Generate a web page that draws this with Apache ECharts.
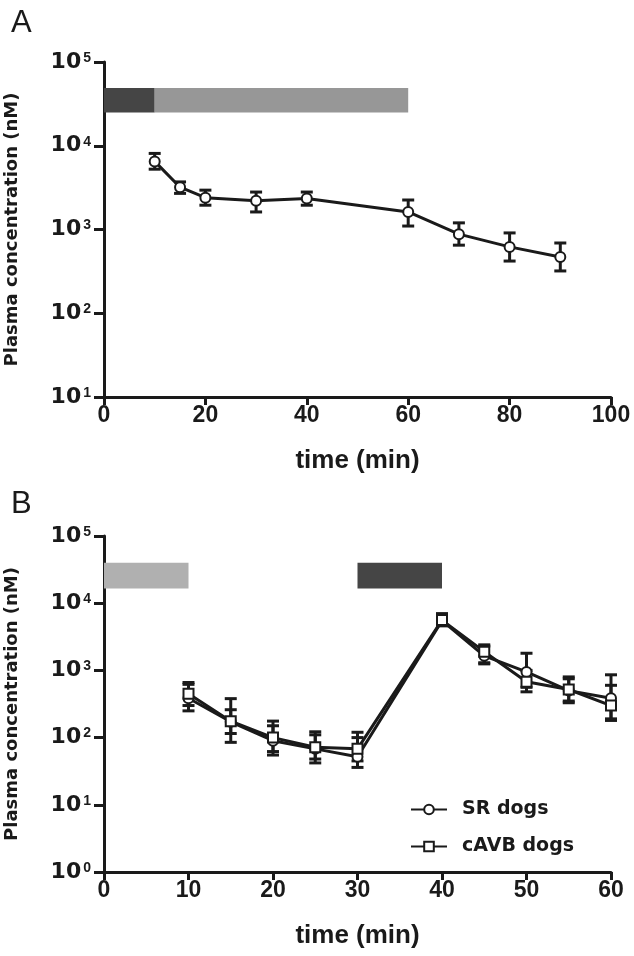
<!DOCTYPE html>
<html>
<head>
<meta charset="utf-8">
<script src="https://cdn.jsdelivr.net/npm/echarts@6/dist/echarts.min.js"></script>
<style>
html,body{margin:0;padding:0;background:#fff;}
#c{width:634px;height:956px;}
</style>
</head>
<body>
<div id="c"></div>
<script>
// ---------- Panel A data ----------
var timeA = [10, 15, 20, 30, 40, 60, 70, 80, 90];
var concA = [6500, 3200, 2400, 2200, 2350, 1620, 880, 620, 470];
var concA_hi = [8100, 3700, 2950, 2800, 2800, 2250, 1200, 910, 690];
var concA_lo = [5250, 2700, 1950, 1620, 1950, 1100, 650, 420, 320];
// dosing bars A: [start, end, low, high]
var barsA = [[0, 10, 25000, 49000], [10, 60, 25000, 49000]];
var barsA_color = ['#454545', '#979797'];

// ---------- Panel B data ----------
var timeB = [10, 15, 20, 25, 30, 40, 45, 50, 55, 60];
var concSR = [385, 172, 90, 68, 52, 5500, 1650, 950, 500, 385];
var concSR_hi = [620, 380, 176, 122, 100, 6800, 2300, 1800, 800, 860];
var concSR_lo = [250, 85, 55, 42, 36, 4800, 1250, 560, 330, 180];
var concCAVB = [450, 175, 100, 72, 68, 5600, 1900, 680, 520, 300];
var concCAVB_hi = [660, 260, 150, 110, 120, 7000, 2400, 1000, 750, 600];
var concCAVB_lo = [300, 115, 62, 48, 45, 4600, 1300, 480, 350, 190];
var barsB = [[0, 10, 16500, 40000], [30, 40, 16500, 40000]];
var barsB_color = ['#b0b0b0', '#454545'];

var xTicksA = [0, 20, 40, 60, 80, 100];
var xTicksB = [0, 10, 20, 30, 40, 50, 60];

var FONT = '"Liberation Sans", Arial, sans-serif';
var WIDE = '"DejaVu Sans", sans-serif';
var INK = '#1a1a1a';

function zip(xs, ys) { return xs.map(function (x, i) { return [x, ys[i]]; }); }
function errData(xs, lo, hi) { return xs.map(function (x, i) { return [x, lo[i], hi[i]]; }); }

function errRender(params, api) {
  var x = api.value(0);
  var p1 = api.coord([x, api.value(1)]);
  var p2 = api.coord([x, api.value(2)]);
  var hw = 6;
  var st = { stroke: INK, lineWidth: 3 };
  return {
    type: 'group',
    children: [
      { type: 'line', shape: { x1: p1[0], y1: p1[1], x2: p2[0], y2: p2[1] }, style: st },
      { type: 'line', shape: { x1: p1[0] - hw, y1: p1[1], x2: p1[0] + hw, y2: p1[1] }, style: st },
      { type: 'line', shape: { x1: p2[0] - hw, y1: p2[1], x2: p2[0] + hw, y2: p2[1] }, style: st }
    ]
  };
}
function barRenderFactory(colors) {
  return function (params, api) {
    var a = api.coord([api.value(0), api.value(3)]);
    var b = api.coord([api.value(1), api.value(2)]);
    return { type: 'rect', shape: { x: a[0], y: a[1], width: b[0] - a[0], height: b[1] - a[1] },
      style: { fill: colors[params.dataIndex] } };
  };
}

var supLabel = function (v) {
  var e = Math.round(Math.log10(v));
  return '{b|10}{s|' + e + '}';
};
var richSup = {
  b: { fontSize: 22, fontWeight: 'bold', fontFamily: WIDE, color: INK },
  s: { fontSize: 14, fontWeight: 'bold', fontFamily: FONT, color: INK, verticalAlign: 'top', padding: [0, 0, 2, 2] }
};

function yAxis(grid, min, max) {
  return {
    type: 'log', logBase: 10, gridIndex: grid, min: min, max: max,
    name: 'Plasma concentration (nM)', nameLocation: 'middle', nameGap: 83,
    nameTextStyle: { fontSize: 18, fontWeight: 'bold', fontFamily: WIDE, color: INK },
    axisLine: { show: true, lineStyle: { color: INK, width: 3 } },
    axisTick: { show: true, length: 10, lineStyle: { color: INK, width: 3 } },
    minorTick: { show: false },
    splitLine: { show: false },
    axisLabel: { formatter: supLabel, rich: richSup, margin: 13 }
  };
}
function xAxis(grid, max, interval) {
  return {
    type: 'value', gridIndex: grid, min: 0, max: max, interval: interval,
    name: 'time (min)', nameLocation: 'middle', nameGap: 51,
    nameTextStyle: { fontSize: 26, fontWeight: 'bold', fontFamily: FONT, color: INK },
    axisLine: { show: true, onZero: false, lineStyle: { color: INK, width: 3 } },
    axisTick: { show: true, length: 8, lineStyle: { color: INK, width: 3 } },
    splitLine: { show: false },
    axisLabel: { fontSize: 23, fontWeight: 'bold', fontFamily: FONT, color: INK, margin: 7 }
  };
}

var lineStyle = { color: INK, width: 3 };
var chart = echarts.init(document.getElementById('c'), null, { renderer: 'canvas' });
chart.setOption({
  backgroundColor: '#fff',
  animation: false,
  title: [
    { text: 'A', left: 6, top: 3, textStyle: { fontSize: 31, fontWeight: 'normal', fontFamily: FONT, color: INK } },
    { text: 'B', left: 6, top: 484, textStyle: { fontSize: 31, fontWeight: 'normal', fontFamily: FONT, color: INK } }
  ],
  grid: [
    { left: 104, top: 62, width: 507, height: 335, containLabel: false, outerBoundsMode: 'none' },
    { left: 104, top: 536, width: 507, height: 336, containLabel: false, outerBoundsMode: 'none' }
  ],
  legend: {
    data: ['SR dogs', 'cAVB dogs'], orient: 'vertical', left: 405, top: 795,
    itemWidth: 36, itemHeight: 12, itemGap: 18,
    textStyle: { fontSize: 19, fontWeight: 'bold', fontFamily: WIDE, color: INK, padding: [0, 0, 0, 10] }
  },
  xAxis: [xAxis(0, 100, 20), xAxis(1, 60, 10)],
  yAxis: [yAxis(0, 10, 100000), yAxis(1, 1, 100000)],
  series: [
    { type: 'custom', xAxisIndex: 0, yAxisIndex: 0, renderItem: barRenderFactory(barsA_color), data: barsA, z: 1 },
    { type: 'custom', xAxisIndex: 1, yAxisIndex: 1, renderItem: barRenderFactory(barsB_color), data: barsB, z: 1 },
    { type: 'custom', xAxisIndex: 0, yAxisIndex: 0, renderItem: errRender, data: errData(timeA, concA_lo, concA_hi), z: 2 },
    { type: 'line', name: 'A', xAxisIndex: 0, yAxisIndex: 0, data: zip(timeA, concA),
      symbol: 'emptyCircle', symbolSize: 10, lineStyle: lineStyle, itemStyle: { color: INK, borderWidth: 2.5 }, z: 3 },
    { type: 'custom', xAxisIndex: 1, yAxisIndex: 1, renderItem: errRender, data: errData(timeB, concSR_lo, concSR_hi), z: 2 },
    { type: 'custom', xAxisIndex: 1, yAxisIndex: 1, renderItem: errRender, data: errData(timeB, concCAVB_lo, concCAVB_hi), z: 2 },
    { type: 'line', name: 'SR dogs', xAxisIndex: 1, yAxisIndex: 1, data: zip(timeB, concSR),
      symbol: 'emptyCircle', symbolSize: 10, lineStyle: lineStyle, itemStyle: { color: INK, borderWidth: 2.5 }, z: 3 },
    { type: 'line', name: 'cAVB dogs', xAxisIndex: 1, yAxisIndex: 1, data: zip(timeB, concCAVB),
      symbol: 'emptyRect', symbolSize: 10, lineStyle: lineStyle, itemStyle: { color: INK, borderWidth: 2.5 }, z: 3 }
  ]
});
</script>
</body>
</html>
